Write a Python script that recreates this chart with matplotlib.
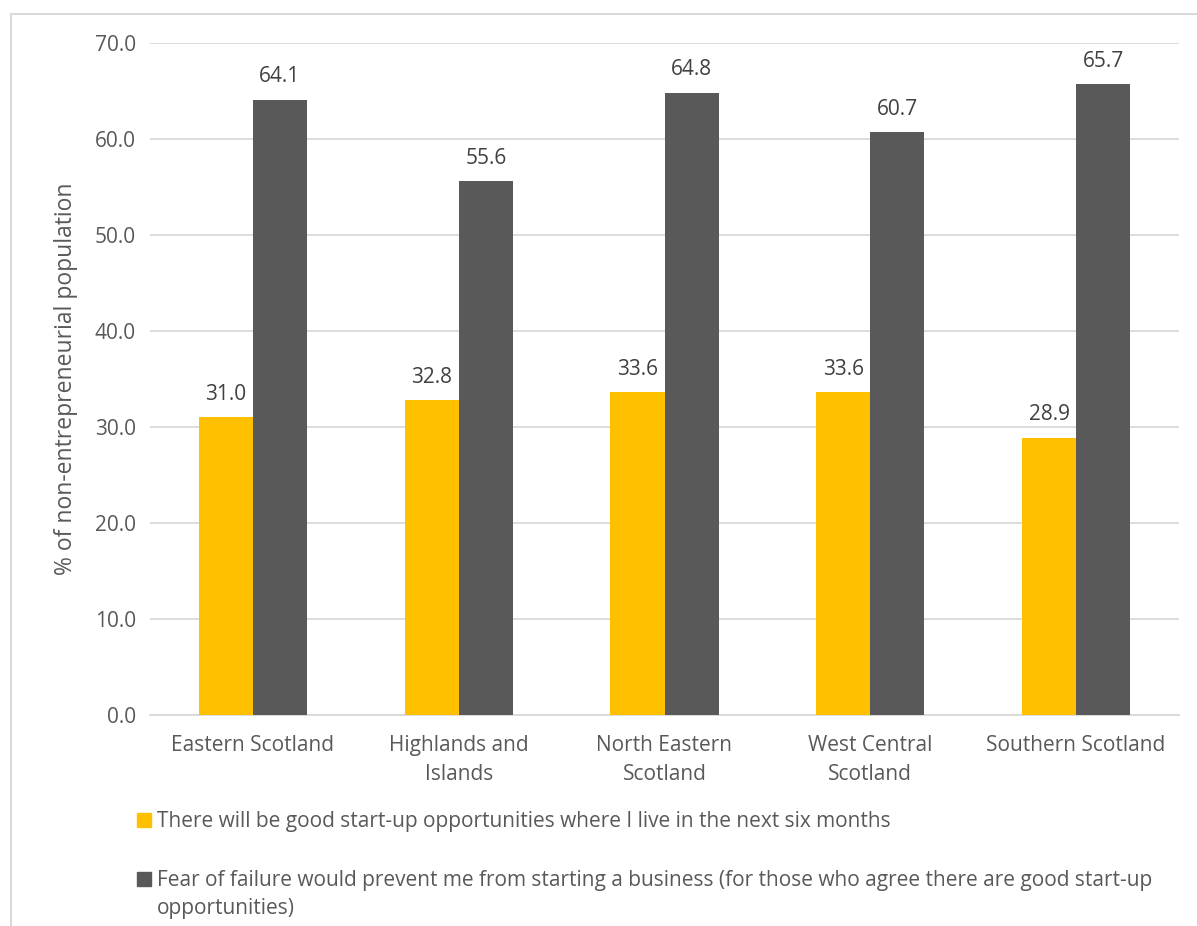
import matplotlib
matplotlib.use('Agg')
from matplotlib import pyplot as plt
from matplotlib.patches import Rectangle
from matplotlib.lines import Line2D
import numpy as np

regions = ['Eastern Scotland', 'Highlands and\nIslands', 'North Eastern\nScotland',
           'West Central\nScotland', 'Southern Scotland']
opportunities = [31.0, 32.8, 33.6, 33.6, 28.9]
fear_of_failure = [64.1, 55.6, 64.8, 60.7, 65.7]
series_names = ['There will be good start-up opportunities where I live in the next six months',
                'Fear of failure would prevent me from starting a business (for those who agree there are good start-up\nopportunities)']
yticks = np.arange(0, 71, 10)

W, H = 1197, 926
YELLOW = '#FFC000'
GREY = '#595959'
TEXT = '#595959'
GRID = '#d9d9d9'
FS = 15
plt.rcParams['font.family'] = ['Open Sans', 'DejaVu Sans']


def fx(px):
    return px / W


def fy(py):
    return 1 - py / H


fig = plt.figure(figsize=(W / 100, H / 100), dpi=100)
ax = fig.add_axes([fx(150), fy(715), (1179 - 150) / W, (715 - 43) / H])

x = np.arange(len(regions))
bw = 0.263
b1 = ax.bar(x - bw / 2, opportunities, bw, color=YELLOW, zorder=3)
b2 = ax.bar(x + bw / 2, fear_of_failure, bw, color=GREY, zorder=3)
for bars in (b1, b2):
    ax.bar_label(bars, fmt='%.1f', padding=9, fontsize=FS, color='#404040')

ax.set_xlim(-0.5, len(regions) - 0.5)
ax.set_ylim(0, 70)
ax.set_yticks(yticks)
ax.set_yticklabels([f'{v:.1f}' for v in yticks])
ax.set_xticks(x)
ax.set_xticklabels(regions, linespacing=1.5)
ax.tick_params(axis='both', length=0, labelsize=FS, colors=TEXT)
ax.tick_params(axis='y', pad=10)
ax.tick_params(axis='x', pad=14.5)
ax.yaxis.grid(True, color=GRID, lw=1.3, zorder=0)
for side in ('top', 'right', 'left'):
    ax.spines[side].set_visible(False)
ax.spines['bottom'].set_color(GRID)
ax.spines['bottom'].set_linewidth(1.3)
ax.set_ylabel('% of non-entrepreneurial population', fontsize=16.5, color=TEXT, labelpad=12)

# legend drawn by hand so the square sits on the first line of wrapped text
entry_top = [820, 879]
for name, col, yc in zip(series_names, (YELLOW, GREY), entry_top):
    fig.patches.append(Rectangle((fx(137), fy(yc + 7)), 14 / W, 14 / H,
                                 transform=fig.transFigure, color=col))
    for k, line in enumerate(name.split('\n')):
        fig.text(fx(157), fy(yc + 7 + k * 28), line, fontsize=FS, color=TEXT,
                 va='baseline', ha='left')

# chart frame (only top and left visible in the crop)
fig.add_artist(Line2D([fx(11), fx(11)], [fy(14), 0], color=GRID, lw=1.5,
                      transform=fig.transFigure))
fig.add_artist(Line2D([fx(11), 1], [fy(14), fy(14)], color=GRID, lw=1.5,
                      transform=fig.transFigure))

fig.savefig('out.png', dpi=100)
